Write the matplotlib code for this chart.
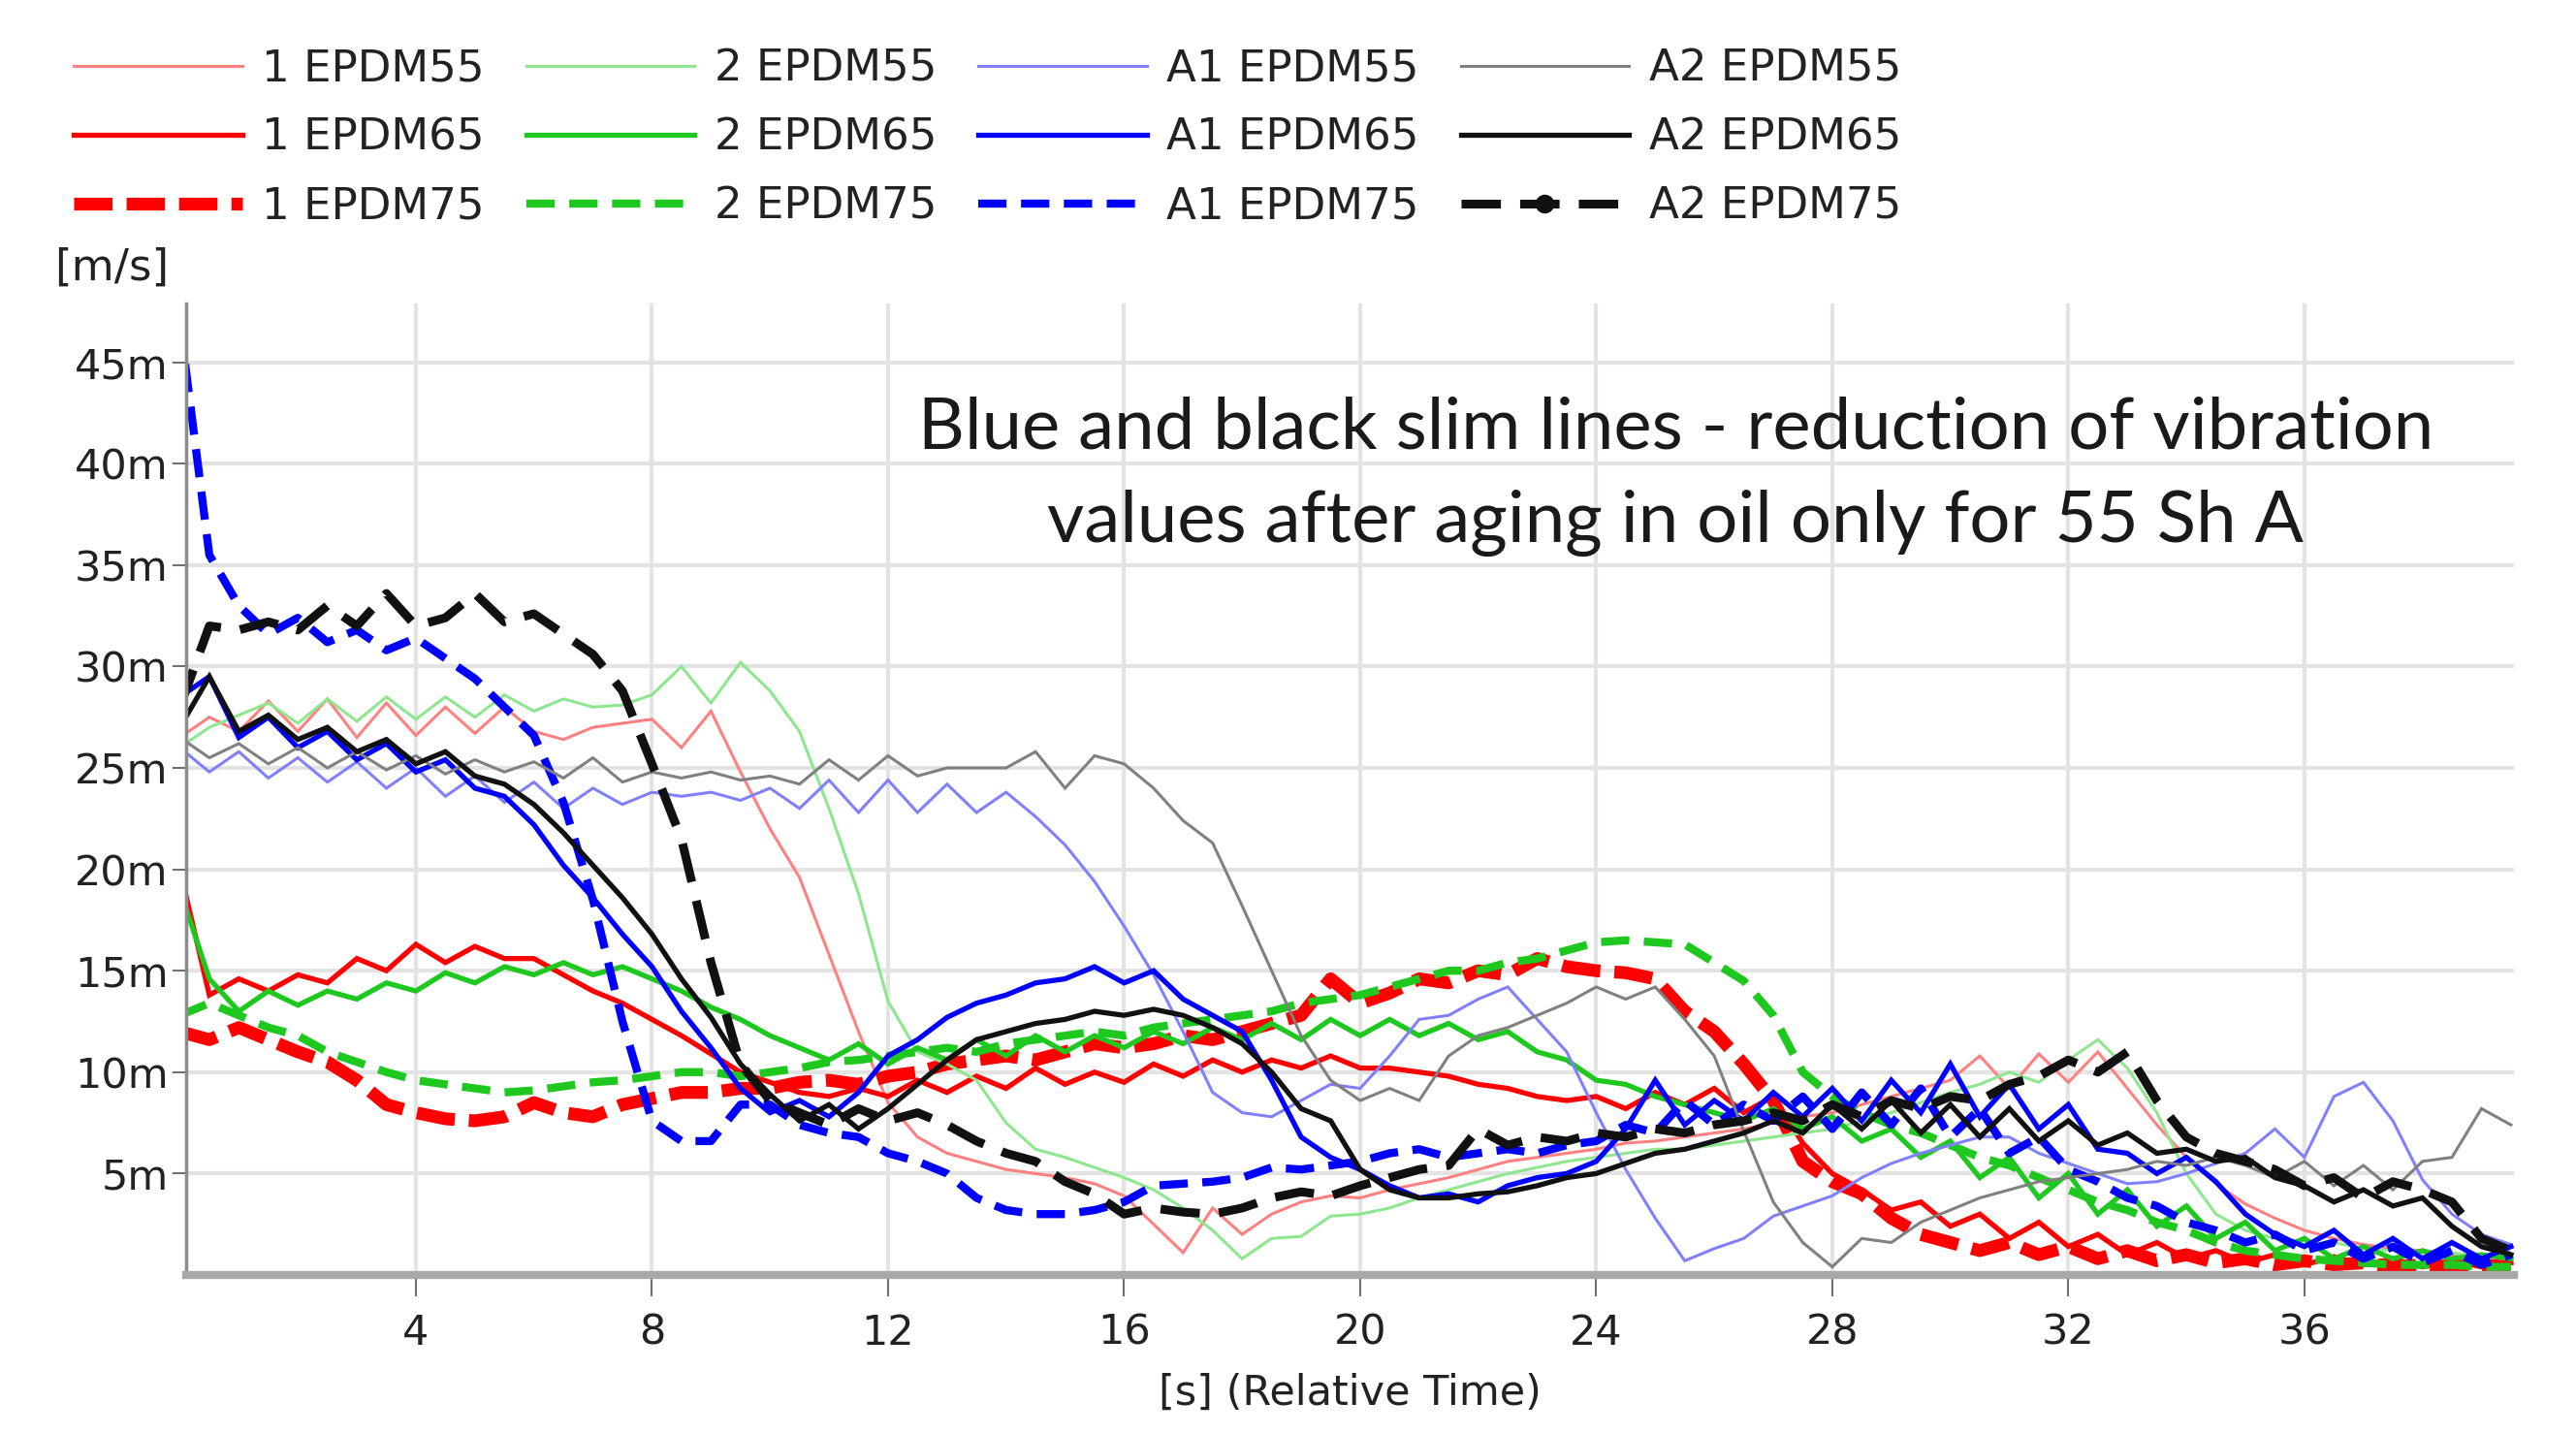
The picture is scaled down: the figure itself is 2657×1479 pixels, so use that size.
import numpy as np
import matplotlib
matplotlib.use("Agg")
import matplotlib.pyplot as plt
from matplotlib.lines import Line2D
from matplotlib.ticker import FuncFormatter

# ---------------- data (0.5 s sampling) ----------------
time_s = np.arange(0, 40, 0.5)

ep1_55 = [26.5, 27.5, 26.8, 28.3, 26.8, 28.4, 26.5, 28.2, 26.6, 28.0,
          26.7, 28.0, 26.8, 26.4, 27.0, 27.2, 27.4, 26.0, 27.8, 24.8,
          22.0, 19.6, 15.8, 12.0, 8.5, 6.8, 6.0, 5.6, 5.2, 5.0,
          4.8, 4.5, 3.9, 2.5, 1.1, 3.3, 2.0, 3.0, 3.6, 3.9,
          3.8, 4.2, 4.5, 4.8, 5.2, 5.6, 5.8, 6.0, 6.2, 6.5,
          6.6, 6.8, 7.0, 7.2, 7.5, 7.8, 8.0, 8.4, 8.8, 9.2,
          9.6, 10.8, 9.2, 10.9, 9.5, 11.0, 9.2, 7.4, 5.8, 4.5,
          3.5, 2.8, 2.2, 1.8, 1.5, 1.3, 1.2, 1.0, 0.9, 0.8]
ep1_65 = [20.0, 13.8, 14.6, 14.0, 14.8, 14.4, 15.6, 15.0, 16.3, 15.4,
          16.2, 15.6, 15.6, 14.8, 14.0, 13.4, 12.6, 11.8, 10.9, 10.0,
          9.5, 9.0, 8.8, 9.2, 8.8, 9.6, 9.0, 9.8, 9.2, 10.2,
          9.4, 10.0, 9.5, 10.4, 9.8, 10.6, 10.0, 10.6, 10.2, 10.8,
          10.2, 10.2, 10.0, 9.8, 9.4, 9.2, 8.8, 8.6, 8.8, 8.2,
          9.0, 8.4, 9.2, 8.0, 8.8, 6.5, 5.0, 4.2, 3.2, 3.6,
          2.4, 3.0, 1.8, 2.6, 1.4, 2.0, 1.0, 1.6, 0.8, 1.2,
          0.6, 1.0, 0.5, 0.9, 0.5, 0.8, 0.4, 0.7, 0.4, 0.6]
ep1_75 = [12.0, 11.6, 12.2, 11.6, 11.0, 10.5, 9.6, 8.4, 8.0, 7.7,
          7.6, 7.8, 8.5, 8.0, 7.8, 8.4, 8.7, 9.0, 9.0, 9.2,
          9.2, 9.5, 9.6, 9.4, 9.8, 10.0, 10.4, 10.6, 10.8, 10.6,
          11.0, 11.4, 11.2, 11.4, 11.8, 11.6, 12.0, 12.4, 12.8, 14.6,
          13.4, 13.9, 14.6, 14.4, 15.0, 14.8, 15.6, 15.2, 15.0, 14.9,
          14.6, 13.0, 12.0, 10.4, 8.6, 5.6, 4.6, 4.0, 2.8, 2.0,
          1.6, 1.2, 1.6, 1.0, 1.4, 0.8, 1.2, 0.7, 1.0, 0.6,
          0.8, 0.5, 0.7, 0.5, 0.6, 0.4, 0.5, 0.4, 0.5, 0.4]

ep2_55 = [26.0, 27.0, 27.6, 28.2, 27.2, 28.4, 27.3, 28.5, 27.4, 28.5,
          27.5, 28.6, 27.8, 28.4, 28.0, 28.1, 28.6, 30.0, 28.2, 30.2,
          28.8, 26.8, 23.0, 18.8, 13.5, 11.0, 10.4, 9.6, 7.5, 6.2,
          5.8, 5.3, 4.8, 4.2, 3.3, 2.2, 0.8, 1.8, 1.9, 2.9,
          3.0, 3.3, 3.8, 4.2, 4.6, 5.0, 5.3, 5.6, 5.8, 6.0,
          6.2, 6.2, 6.4, 6.6, 6.8, 7.0, 7.2, 7.6, 8.0, 8.5,
          9.0, 9.4, 10.0, 9.5, 10.6, 11.6, 10.2, 8.0, 5.0, 3.0,
          2.2, 1.8, 1.5, 1.6, 1.3, 1.2, 1.0, 1.1, 0.9, 0.9]
ep2_65 = [19.0, 14.6, 13.0, 14.0, 13.3, 14.0, 13.6, 14.4, 14.0, 14.9,
          14.4, 15.2, 14.8, 15.4, 14.8, 15.2, 14.6, 14.0, 13.2, 12.6,
          11.8, 11.2, 10.6, 11.4, 10.4, 11.2, 10.6, 11.6, 10.8, 11.8,
          11.0, 11.8, 11.2, 12.0, 11.4, 12.2, 11.6, 12.4, 11.6, 12.6,
          11.8, 12.6, 11.8, 12.4, 11.6, 12.0, 11.0, 10.6, 9.6, 9.4,
          8.8, 8.4, 8.0, 7.6, 8.2, 7.2, 7.8, 6.6, 7.2, 5.8,
          6.6, 4.8, 5.8, 3.8, 5.0, 3.0, 4.2, 2.4, 3.4, 1.8,
          2.6, 1.2, 1.8, 0.8, 1.4, 0.8, 1.2, 0.8, 1.0, 0.8]
ep2_75 = [12.8, 13.4, 12.8, 12.2, 11.8, 11.0, 10.5, 10.0, 9.6, 9.4,
          9.2, 9.0, 9.1, 9.3, 9.5, 9.6, 9.8, 10.0, 10.0, 9.8,
          10.0, 10.2, 10.5, 10.6, 10.8, 11.0, 11.2, 11.0, 11.4, 11.6,
          11.8, 12.0, 11.8, 12.2, 12.4, 12.6, 12.8, 13.0, 13.4, 13.6,
          13.8, 14.2, 14.6, 15.0, 15.0, 15.4, 15.6, 16.0, 16.4, 16.5,
          16.4, 16.3, 15.4, 14.5, 12.8, 10.0, 8.8, 8.0, 7.4, 7.0,
          6.4, 5.8, 5.4, 4.8, 4.2, 3.6, 3.2, 2.6, 2.2, 1.6,
          1.2, 1.0, 0.8, 0.7, 0.6, 0.5, 0.5, 0.5, 0.4, 0.4]

a1_55 = [26.0, 24.8, 25.8, 24.5, 25.5, 24.3, 25.3, 24.0, 25.0, 23.6,
         24.6, 23.3, 24.3, 23.0, 24.0, 23.2, 23.8, 23.6, 23.8, 23.4,
         24.0, 23.0, 24.4, 22.8, 24.4, 22.8, 24.2, 22.8, 23.8, 22.6,
         21.2, 19.4, 17.2, 14.8, 12.0, 9.0, 8.0, 7.8, 8.6, 9.4,
         9.2, 10.8, 12.6, 12.8, 13.6, 14.2, 12.6, 11.0, 8.0, 5.2,
         2.8, 0.7, 1.3, 1.8, 2.9, 3.4, 3.9, 4.8, 5.5, 6.0,
         6.4, 6.8, 6.8, 6.0, 5.5, 5.0, 4.5, 4.6, 5.0, 5.5,
         6.0, 7.2, 5.8, 8.8, 9.5, 7.6, 4.7, 3.0, 2.0, 1.5]
a1_65 = [28.5, 29.5, 26.5, 27.5, 26.0, 26.8, 25.4, 26.2, 24.8, 25.4,
         24.0, 23.6, 22.2, 20.2, 18.6, 16.8, 15.2, 13.0, 11.2, 9.2,
         8.0, 8.6, 7.8, 9.0, 10.8, 11.6, 12.7, 13.4, 13.8, 14.4,
         14.6, 15.2, 14.4, 15.0, 13.6, 12.8, 12.0, 9.6, 6.8, 5.8,
         5.2, 4.4, 3.8, 4.0, 3.6, 4.4, 4.8, 5.0, 5.6, 7.2,
         9.6, 7.4, 8.6, 7.6, 9.0, 7.8, 9.2, 7.6, 9.6, 8.0,
         10.4, 7.8, 9.4, 7.2, 8.4, 6.2, 6.0, 5.0, 5.8, 4.6,
         3.0, 2.0, 1.4, 2.2, 1.0, 1.8, 0.8, 1.6, 0.8, 1.4]
a1_75 = [47.0, 35.5, 33.0, 31.6, 32.4, 31.2, 31.8, 30.8, 31.4, 30.4,
         29.4, 28.0, 26.6, 23.3, 18.5, 12.5, 7.6, 6.6, 6.6, 8.4,
         8.4, 7.4, 7.0, 6.8, 6.0, 5.6, 5.0, 3.8, 3.2, 3.0,
         3.0, 3.2, 3.6, 4.4, 4.5, 4.6, 4.8, 5.3, 5.2, 5.4,
         5.6, 6.0, 6.2, 5.8, 6.0, 6.2, 6.0, 6.4, 6.6, 7.4,
         7.0, 8.6, 7.4, 8.4, 7.6, 8.8, 7.2, 9.0, 7.4, 9.2,
         6.8, 8.2, 6.0, 6.8, 5.2, 4.6, 3.8, 3.4, 2.6, 2.2,
         1.6, 2.0, 1.2, 1.6, 0.8, 1.4, 0.6, 1.2, 0.5, 1.0]

a2_55 = [26.5, 25.5, 26.2, 25.2, 26.0, 25.0, 25.8, 24.9, 25.6, 24.7,
         25.4, 24.8, 25.3, 24.5, 25.5, 24.3, 24.8, 24.5, 24.8, 24.4,
         24.6, 24.2, 25.4, 24.4, 25.6, 24.6, 25.0, 25.0, 25.0, 25.8,
         24.0, 25.6, 25.2, 24.0, 22.4, 21.3, 18.2, 15.0, 11.8, 9.6,
         8.6, 9.2, 8.6, 10.8, 11.8, 12.2, 12.8, 13.4, 14.2, 13.6,
         14.2, 12.6, 10.8, 7.1, 3.6, 1.6, 0.4, 1.8, 1.6, 2.6,
         3.2, 3.8, 4.2, 4.6, 4.8, 5.0, 5.2, 5.6, 5.4, 5.8,
         5.4, 4.8, 5.6, 4.4, 5.4, 4.2, 5.6, 5.8, 8.2, 7.4]
a2_65 = [27.0, 29.5, 26.8, 27.6, 26.4, 27.0, 25.8, 26.4, 25.2, 25.8,
         24.6, 24.2, 23.2, 21.8, 20.2, 18.6, 16.8, 14.6, 12.7, 10.4,
         8.9, 7.6, 8.4, 7.2, 8.2, 9.4, 10.6, 11.6, 12.0, 12.4,
         12.6, 13.0, 12.8, 13.1, 12.8, 12.2, 11.4, 10.0, 8.2, 7.6,
         5.2, 4.2, 3.8, 3.8, 4.0, 4.1, 4.4, 4.8, 5.0, 5.5,
         6.0, 6.2, 6.6, 7.0, 7.6, 7.0, 8.4, 7.2, 8.6, 7.0,
         8.4, 6.8, 8.2, 6.6, 7.6, 6.4, 7.0, 6.0, 6.2, 5.6,
         5.8, 4.8, 4.4, 3.6, 4.2, 3.4, 3.8, 2.4, 1.4, 1.0]
a2_75 = [28.0, 32.0, 31.8, 32.2, 31.8, 33.0, 32.0, 33.6, 32.0, 32.4,
         33.6, 32.2, 32.6, 31.6, 30.6, 28.8, 25.2, 21.5, 15.4, 10.4,
         8.6, 8.0, 7.4, 8.2, 7.6, 8.0, 7.4, 6.6, 6.0, 5.6,
         4.6, 4.0, 3.0, 3.3, 3.1, 3.0, 3.3, 3.8, 4.1, 3.9,
         4.4, 4.8, 5.2, 5.4, 7.2, 6.4, 6.8, 6.6, 7.0, 6.8,
         7.2, 7.0, 7.4, 7.6, 8.0, 7.6, 8.4, 7.8, 8.6, 8.2,
         8.8, 8.6, 9.4, 9.8, 10.6, 10.0, 11.0, 8.6, 6.8, 6.0,
         5.6, 5.2, 4.4, 4.8, 3.8, 4.6, 4.2, 3.6, 1.8, 1.2]

series_labels = ["1 EPDM55", "1 EPDM65", "1 EPDM75",
                 "2 EPDM55", "2 EPDM65", "2 EPDM75",
                 "A1 EPDM55", "A1 EPDM65", "A1 EPDM75",
                 "A2 EPDM55", "A2 EPDM65", "A2 EPDM75"]
series_values = [ep1_55, ep1_65, ep1_75, ep2_55, ep2_65, ep2_75,
                 a1_55, a1_65, a1_75, a2_55, a2_65, a2_75]
y_ticks = [5, 10, 15, 20, 25, 30, 35, 40, 45]
x_ticks = [4, 8, 12, 16, 20, 24, 28, 32, 36]

# ---------------- styles ----------------
styles = [
    dict(color="#ff8080", lw=2.2, ls="-"),
    dict(color="#ff0000", lw=3.8, ls="-"),
    dict(color="#ff0000", lw=9.5, ls=(0, (3.0, 1.1))),
    dict(color="#8ee68e", lw=2.2, ls="-"),
    dict(color="#1fc81f", lw=3.8, ls="-"),
    dict(color="#1fc81f", lw=6.0, ls=(0, (3.5, 1.8))),
    dict(color="#8080ff", lw=2.2, ls="-"),
    dict(color="#0000ff", lw=3.8, ls="-"),
    dict(color="#0000ff", lw=6.0, ls=(0, (3.5, 1.8))),
    dict(color="#808080", lw=2.2, ls="-"),
    dict(color="#111111", lw=3.8, ls="-"),
    dict(color="#111111", lw=6.5, ls=(0, (4.5, 2.2))),
]

fig = plt.figure(figsize=(26.57, 14.79), dpi=100)
ax = fig.add_axes([0.0721, 0.1109, 0.9038, 0.6775])

for vals, st in zip(series_values, styles):
    ax.plot(time_s, vals, solid_joinstyle="miter", **st)

ax.set_xlim(0.1, 39.55)
ax.set_ylim(0, 47.9)
ax.set_xticks(x_ticks)
ax.set_yticks(y_ticks)
ax.yaxis.set_major_formatter(FuncFormatter(lambda v, p: f"{int(v)}m"))
ax.grid(True, color="#e3e3e3", lw=3)
ax.set_axisbelow(True)

for s in ["top", "right"]:
    ax.spines[s].set_visible(False)
ax.spines["left"].set_color("#8c8c8c")
ax.spines["left"].set_linewidth(2.5)
ax.spines["bottom"].set_color("#a8a8a8")
ax.spines["bottom"].set_linewidth(6)

ax.tick_params(axis="x", length=16, width=1.5, color="#707070", pad=12,
               labelsize=31, labelcolor="#222222")
ax.tick_params(axis="y", length=10, width=1.5, color="#707070", pad=3,
               labelsize=31, labelcolor="#222222")

ax.set_xlabel("[s] (Relative Time)", fontsize=31, color="#222222", labelpad=14)
fig.text(0.021, 0.813, "[m/s]", fontsize=32.5, color="#222222", ha="left", va="center")

fig.text(0.6505, 0.668,
         "Blue and black slim lines - reduction of vibration\nvalues after aging in oil only for 55 Sh A",
         fontsize=53.5, family=["Lato", "DejaVu Sans"], color="#1a1a1a",
         ha="center", va="center", linespacing=1.55)

handles = []
for st, lab in zip(styles, series_labels):
    kw = dict(st)
    if lab == "A2 EPDM75":
        h = Line2D([], [], marker="o", markersize=13, markevery=[0], **kw)
    else:
        h = Line2D([], [], **kw)
    handles.append(h)

fig.legend(handles, series_labels, loc="upper left", bbox_to_anchor=(0.0286, 0.9665),
           ncol=4, frameon=False, fontsize=32.5, handlelength=3.85,
           handletextpad=0.45, columnspacing=0.95, labelspacing=0.62,
           borderpad=0, borderaxespad=0, labelcolor="#222222")

fig.savefig("out.png", dpi=100)
